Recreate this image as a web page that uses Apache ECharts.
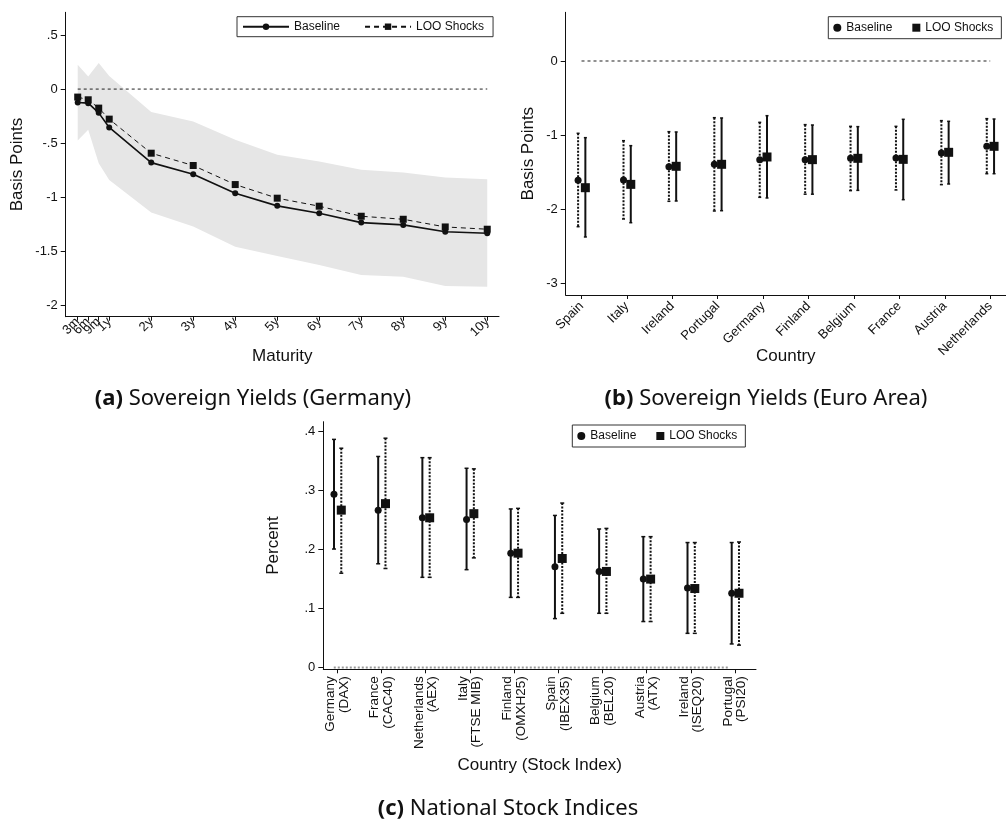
<!DOCTYPE html>
<html><head><meta charset="utf-8">
<script src="https://cdn.jsdelivr.net/npm/echarts@6/dist/echarts.min.js"></script>
<style>html,body{margin:0;padding:0;background:#fff}#c{width:1006px;height:824px}</style>
</head><body><div id="c"></div>
<script>
// ---------- Panel (a): Sovereign yields (Germany) ----------
const maturityYears  = [0.25, 0.5, 0.75, 1, 2, 3, 4, 5, 6, 7, 8, 9, 10];
const maturityLabels = ['3m','6m','9m','1y','2y','3y','4y','5y','6y','7y','8y','9y','10y'];
const yieldBaselineDE = [-0.124,-0.130,-0.220,-0.355,-0.680,-0.787,-0.963,-1.080,-1.148,-1.235,-1.256,-1.320,-1.333];
const yieldLooDE      = [-0.074,-0.099,-0.176,-0.278,-0.593,-0.707,-0.883,-1.009,-1.083,-1.176,-1.204,-1.275,-1.296];
const bandUpperDE     = [0.225, 0.117, 0.240, 0.120,-0.213,-0.300,-0.469,-0.608,-0.670,-0.747,-0.772,-0.818,-0.833];
const bandLowerDE     = [-0.476,-0.377,-0.685,-0.840,-1.142,-1.272,-1.457,-1.543,-1.627,-1.720,-1.735,-1.821,-1.827];
const yTicksA = [0.5, 0, -0.5, -1, -1.5, -2];

// ---------- Panel (b): Sovereign yields (Euro Area) ----------
const countriesEA = ['Spain','Italy','Ireland','Portugal','Germany','Finland','Belgium','France','Austria','Netherlands'];
const eaBaseline   = [-1.613,-1.608,-1.428,-1.396,-1.333,-1.333,-1.315,-1.311,-1.243,-1.153];
const eaBaselineLo = [-2.239,-2.135,-1.896,-2.027,-1.842,-1.800,-1.752,-1.743,-1.671,-1.523];
const eaBaselineHi = [-0.977,-1.077,-0.955,-0.766,-0.829,-0.860,-0.883,-0.883,-0.806,-0.779];
const eaLoo        = [-1.712,-1.667,-1.423,-1.396,-1.297,-1.333,-1.315,-1.329,-1.234,-1.153];
const eaLooLo      = [-2.378,-2.185,-1.892,-2.023,-1.851,-1.800,-1.748,-1.874,-1.662,-1.523];
const eaLooHi      = [-1.036,-1.144,-0.959,-0.770,-0.739,-0.865,-0.887,-0.788,-0.815,-0.784];
const yTicksB = [0, -1, -2, -3];

// ---------- Panel (c): National stock indices ----------
const stockLabels = ['Germany\n(DAX)','France\n(CAC40)','Netherlands\n(AEX)','Italy\n(FTSE MIB)','Finland\n(OMXH25)','Spain\n(IBEX35)','Belgium\n(BEL20)','Austria\n(ATX)','Ireland\n(ISEQ20)','Portugal\n(PSI20)'];
const stBaseline   = [0.294,0.267,0.254,0.251,0.194,0.171,0.163,0.150,0.135,0.126];
const stBaselineLo = [0.201,0.176,0.153,0.166,0.119,0.083,0.092,0.078,0.058,0.040];
const stBaselineHi = [0.387,0.358,0.356,0.338,0.269,0.258,0.235,0.222,0.212,0.212];
const stLoo        = [0.267,0.278,0.254,0.261,0.194,0.185,0.163,0.150,0.134,0.126];
const stLooLo      = [0.160,0.168,0.153,0.186,0.119,0.092,0.092,0.078,0.058,0.038];
const stLooHi      = [0.372,0.389,0.356,0.337,0.270,0.279,0.236,0.222,0.212,0.213];
const yTicksC = [0, 0.1, 0.2, 0.3, 0.4];

const captions = ['Sovereign Yields (Germany)', 'Sovereign Yields (Euro Area)', 'National Stock Indices'];
const legendNames = ['Baseline', 'LOO Shocks'];

// ---------- rendering ----------
const chart = echarts.init(document.getElementById('c'));
const FONT = 'Liberation Sans';
const CAPFONT = 'Noto Sans';
const INK = '#111';
const idx = (n) => Array.from({length:n}, (_, i) => i + 1);

function fmtY(v){ const r = Math.round(v*10)/10; return String(r).replace(/^(-?)0\./, '$1.'); }
function matLabel(v){ const k = maturityYears.findIndex(m => Math.abs(m - v) < 1e-6); return k >= 0 ? maturityLabels[k] : ''; }

function xAxisBase(grid, min, max, ticks, labelFn, rotate, fontSize, name, nameGap, margin){
  return {
    gridIndex: grid, type: 'value', min, max, position: 'bottom',
    axisLine: {onZero: false, lineStyle: {color: INK, width: 1}},
    axisTick: {customValues: ticks, length: 4, lineStyle: {color: INK}},
    axisLabel: {customValues: ticks, formatter: labelFn, rotate, fontSize, color: INK, fontFamily: FONT, margin,
      lineHeight: fontSize, hideOverlap: false, showMinLabel: true, showMaxLabel: true},
    splitLine: {show: false},
    name, nameLocation: 'middle', nameGap, nameMoveOverlap: false,
    nameTextStyle: {fontSize: 17, color: INK, fontFamily: FONT}
  };
}
function yAxisBase(grid, min, max, ticks, name, nameGap){
  return {
    gridIndex: grid, type: 'value', min, max,
    axisLine: {show: true, onZero: false, lineStyle: {color: INK, width: 1}},
    axisTick: {show: true, customValues: ticks, length: 5, lineStyle: {color: INK}},
    axisLabel: {customValues: ticks, formatter: fmtY, fontSize: 13, color: INK, fontFamily: FONT, margin: 8},
    splitLine: {show: false},
    name, nameLocation: 'middle', nameGap, nameMoveOverlap: false,
    nameTextStyle: {fontSize: 17, color: INK, fontFamily: FONT}
  };
}

function errorBars(grid, xs, lo, hi, dashed, capHalf){
  return {
    type: 'custom', xAxisIndex: grid, yAxisIndex: grid, z: 3, silent: true,
    data: xs.map((x, i) => [x, lo[i], hi[i]]),
    renderItem(params, api){
      const x = api.value(0);
      const top = api.coord([x, api.value(2)]);
      const bot = api.coord([x, api.value(1)]);
      const st = {stroke: INK, lineWidth: 2, lineDash: dashed ? [2, 1.5] : null};
      const cap = {stroke: INK, lineWidth: 1.5};
      return {type: 'group', children: [
        {type: 'line', shape: {x1: top[0], y1: top[1], x2: bot[0], y2: bot[1]}, style: st},
        {type: 'line', shape: {x1: top[0]-capHalf, y1: top[1], x2: top[0]+capHalf, y2: top[1]}, style: cap},
        {type: 'line', shape: {x1: bot[0]-capHalf, y1: bot[1], x2: bot[0]+capHalf, y2: bot[1]}, style: cap}
      ]};
    }
  };
}
function points(grid, name, xs, ys, symbol, size){
  return {type: 'scatter', name, xAxisIndex: grid, yAxisIndex: grid, z: 4, silent: true,
    symbol, symbolSize: size, itemStyle: {color: INK, opacity: 1},
    data: xs.map((x, i) => [x, ys[i]])};
}
function zeroLine(grid, x0, x1, color, width, dash){
  return {type: 'line', xAxisIndex: grid, yAxisIndex: grid, z: 2, silent: true, showSymbol: false, symbol: 'none',
    lineStyle: {color, width, type: dash}, data: [[x0, 0], [x1, 0]]};
}

const xsB = idx(10);
const xsC = idx(10);
const offB = -0.075, offB2 = 0.085, offC = -0.075, offC2 = 0.09;

// second label axis for panel (a) so crowded short-maturity labels all show
const crowdedA = [maturityYears[1]];
const mainA = maturityYears.filter(m => !crowdedA.includes(m));
const extraAxisA = xAxisBase(0, -0.036, 10.28, crowdedA, matLabel, 45, 13, '', 0, 3);
extraAxisA.axisLine = {show: false, onZero: false};
extraAxisA.axisTick = {show: false};

const legendText = {fontSize: 12, color: INK, fontFamily: FONT};
const option = {
  animation: false,
  textStyle: {fontFamily: FONT},
  grid: [
    {left: 65.7, top: 12.3, width: 433.3, height: 304.4},
    {left: 565.7, top: 12.3, width: 446.3, height: 282.7},
    {left: 323.3, top: 421.7, width: 432.7, height: 247.6}
  ],
  xAxis: [
    (() => { const a = xAxisBase(0, -0.036, 10.28, maturityYears, matLabel, 45, 13, 'Maturity', 31, 3);
             a.axisLabel.customValues = mainA; return a; })(),
    xAxisBase(1, 0.652, 10.348, xsB, v => countriesEA[Math.round(v) - 1] || '', 45, 13, 'Country', 53, 9),
    xAxisBase(2, 0.683, 10.475, xsC, v => stockLabels[Math.round(v) - 1] || '', 90, 13.5, 'Country (Stock Index)', 88, 7),
    extraAxisA
  ],
  yAxis: [
    yAxisBase(0, -2.105, 0.71, yTicksA, 'Basis Points', 40),
    yAxisBase(1, -3.162, 0.658, yTicksB, 'Basis Points', 29),
    yAxisBase(2, -0.003, 0.417, yTicksC, 'Percent', 41)
  ],
  legend: [
    {left: 237, top: 16.7, orient: 'horizontal', padding: [4, 9, 4, 5], itemGap: 24, itemWidth: 46, itemHeight: 8,
     borderColor: '#333', borderWidth: 1, textStyle: legendText, selectedMode: false,
     data: legendNames.map(n => ({name: n}))},
    {left: 828.3, top: 16.7, orient: 'horizontal', padding: [5, 8, 5, 5], itemGap: 20, itemWidth: 8, itemHeight: 8,
     borderColor: '#333', borderWidth: 1, textStyle: legendText, selectedMode: false,
     data: [{name: legendNames[0], icon: 'circle'}, {name: legendNames[1], icon: 'rect'}]},
    {left: 572.3, top: 425, orient: 'horizontal', padding: [5, 8, 5, 5], itemGap: 20, itemWidth: 8, itemHeight: 8,
     borderColor: '#333', borderWidth: 1, textStyle: legendText, selectedMode: false,
     data: [{name: legendNames[0], icon: 'circle'}, {name: legendNames[1], icon: 'rect'}]}
  ],
  series: [
    // panel a
    {type: 'line', name: legendNames[0], xAxisIndex: 0, yAxisIndex: 0, z: 4, silent: true,
     symbol: 'circle', symbolSize: 6, itemStyle: {color: INK}, lineStyle: {color: INK, width: 1.6},
     data: maturityYears.map((m, i) => [m, yieldBaselineDE[i]])},
    {type: 'line', name: legendNames[1], xAxisIndex: 0, yAxisIndex: 0, z: 4, silent: true,
     symbol: 'rect', symbolSize: 7, itemStyle: {color: INK}, lineStyle: {color: INK, width: 1, type: [5, 4]},
     data: maturityYears.map((m, i) => [m, yieldLooDE[i]])},
    {type: 'custom', xAxisIndex: 0, yAxisIndex: 0, z: 1, silent: true,
     data: maturityYears.map((m, i) => [m, bandLowerDE[i], bandUpperDE[i]]),
     renderItem(params, api){
       if (params.dataIndex !== 0) return null;
       const up = maturityYears.map((m, i) => api.coord([m, bandUpperDE[i]]));
       const dn = maturityYears.map((m, i) => api.coord([m, bandLowerDE[i]])).reverse();
       return {type: 'polygon', shape: {points: up.concat(dn)}, style: {fill: '#e6e6e6'}};
     }},
    zeroLine(0, maturityYears[0], maturityYears[maturityYears.length - 1], '#222', 1, [3, 3]),
    // panel b
    zeroLine(1, xsB[0], xsB[xsB.length - 1], '#222', 1, [3, 3]),
    errorBars(1, xsB.map(x => x + offB), eaBaselineLo, eaBaselineHi, true, 1.5),
    errorBars(1, xsB.map(x => x + offB2), eaLooLo, eaLooHi, false, 1.5),
    points(1, legendNames[0], xsB.map(x => x + offB), eaBaseline, 'circle', 7),
    points(1, legendNames[1], xsB.map(x => x + offB2), eaLoo, 'rect', 9),
    // panel c
    zeroLine(2, 0.92, 9.84, '#999', 2, [2, 2]),
    errorBars(2, xsC.map(x => x + offC), stBaselineLo, stBaselineHi, false, 2),
    errorBars(2, xsC.map(x => x + offC2), stLooLo, stLooHi, true, 2),
    points(2, legendNames[0], xsC.map(x => x + offC), stBaseline, 'circle', 7),
    points(2, legendNames[1], xsC.map(x => x + offC2), stLoo, 'rect', 9)
  ],
  graphic: [
    ['a', captions[0], 253, 399],
    ['b', captions[1], 766, 399],
    ['c', captions[2], 508, 809]
  ].map(([tag, txt, x, y]) => ({
    type: 'text', x, y, silent: true,
    style: {
      text: '{b|(' + tag + ')} ' + txt, align: 'center', verticalAlign: 'middle',
      fontSize: 22, fontFamily: CAPFONT, fill: '#111',
      rich: {b: {fontWeight: 'bold', fontSize: 22, fontFamily: CAPFONT, fill: '#111'}}
    }
  }))
};
chart.setOption(option);
</script>
</body></html>
